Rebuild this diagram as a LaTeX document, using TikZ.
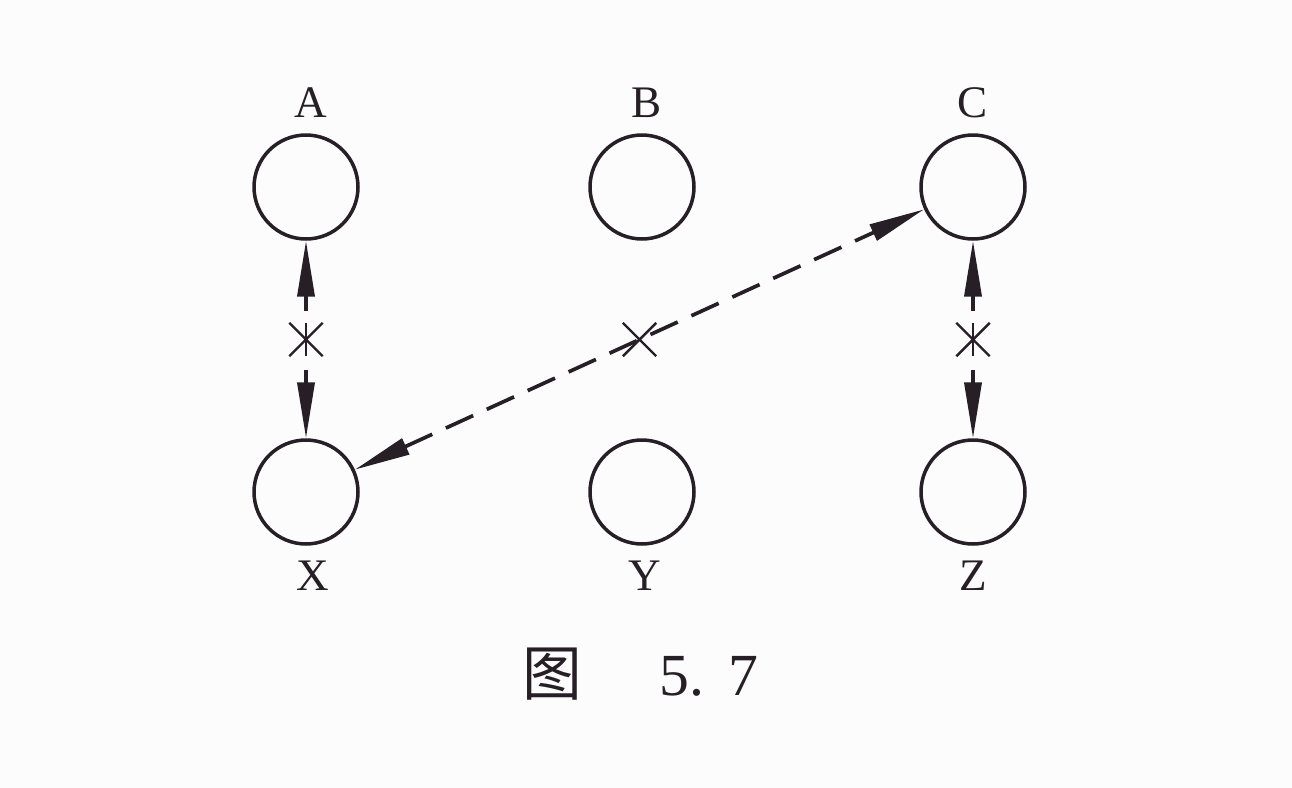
\documentclass[tikz,border=0pt]{standalone}
\usepackage{fontspec}
\setmainfont{Liberation Serif}
\newfontfamily\cjk{Noto Sans CJK SC}
\usetikzlibrary{arrows.meta,shapes.misc}
\definecolor{ink}{RGB}{38,32,38}
\definecolor{paper}{RGB}{252,252,253}
\tikzset{vertex/.style={circle,draw=ink,line width=2pt,inner sep=0pt,minimum size=2.08cm}}
\tikzset{edge/.style={ink,line width=2.1pt,{Triangle[length=1.12cm,width=0.34cm]}-{Triangle[length=1.12cm,width=0.34cm]}}}
\tikzset{cut/.style={edge,dash pattern=on 0.3cm off 1.18cm on 0.3cm off 1.18cm}}
\tikzset{link/.style={edge,dash pattern=on 0.6cm off 0.3cm}}
\tikzset{xmark/.style={cross out,draw=ink,solid,line width=1.4pt,inner sep=0pt,minimum size=0.62cm}}
\tikzset{annot/.style={text=ink,inner sep=0pt,font=\fontsize{25.7}{30}\selectfont}}

\begin{document}
\begin{tikzpicture}[x=0.02cm,y=-0.02cm]
\fill [paper] (0,0) rectangle (1292,788);
\useasboundingbox (0,0) rectangle (1292,788);

\node [vertex] (A) at (306,187) {};
\node [vertex] (B) at (642,187) {};
\node [vertex] (C) at (973,187) {};
\node [vertex] (X) at (306,492) {};
\node [vertex] (Y) at (642,492) {};
\node [vertex] (Z) at (973,492) {};

\node [annot] (lA) at (311,103) {A};
\node [annot] (lB) at (647,103) {B};
\node [annot] (lC) at (973,103) {C};
\node [annot] (lX) at (313,576) {X};
\node [annot] (lY) at (645,576) {Y};
\node [annot] (lZ) at (973,576) {Z};

\draw [cut] (A) -- node [xmark] (sA) {} (X);
\draw [cut] (C) -- node [xmark] (sC) {} (Z);
\draw [ink,line width=1.4pt] (sA.north) -- (sA.south);
\draw [ink,line width=1.4pt] (sC.north) -- (sC.south);

\draw [link] (X) -- node [xmark] (sX) {} (C);

\node [annot,anchor=base west,font=\fontsize{34}{38}\selectfont] (cap) at (522,695) {{\cjk 图}\hspace{1.3em}5.\hspace{0.4em}7};
\end{tikzpicture}
\end{document}
